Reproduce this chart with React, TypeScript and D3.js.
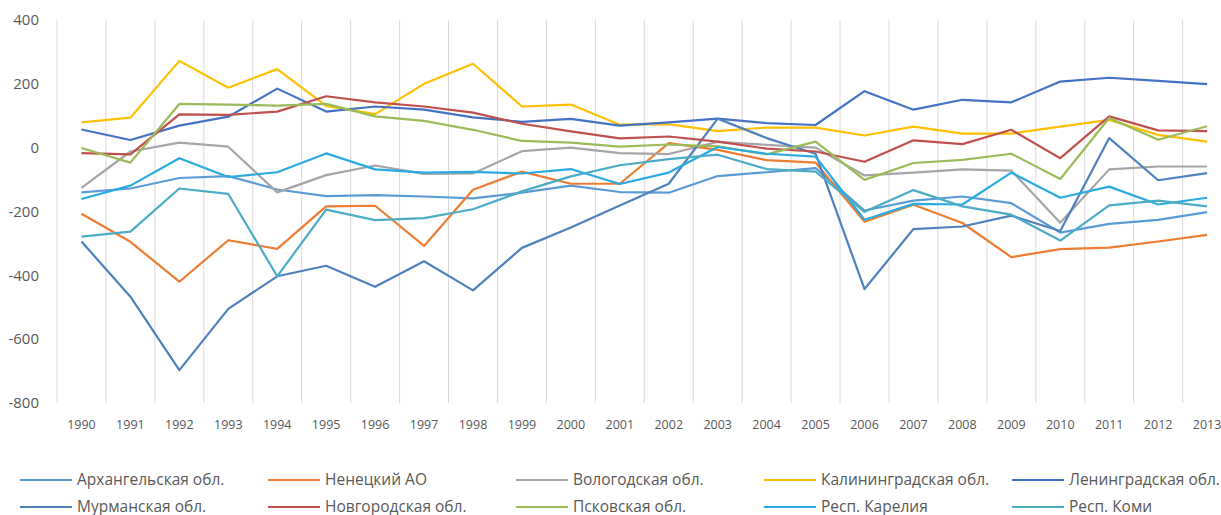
import React, { useEffect, useRef } from 'react';
import * as d3 from 'd3';

const years = d3.range(1990, 2014).map(String);

const arkhangelsk = [-140, -128, -95, -89, -131, -152, -149, -153, -159, -141, -119, -139, -141, -89, -77, -64, -197, -166, -153, -174, -266, -239, -226, -202];
const nenets = [-207, -295, -420, -290, -317, -184, -182, -308, -132, -75, -113, -113, 14, -7, -39, -47, -232, -179, -236, -343, -318, -313, -294, -273];
const vologda = [-126, -12, 16, 3, -140, -86, -56, -82, -81, -11, 0, -17, -20, 18, 9, 0, -87, -78, -68, -72, -235, -68, -59, -59];
const kaliningrad = [79, 94, 272, 188, 246, 131, 105, 200, 263, 129, 135, 72, 74, 52, 63, 63, 38, 66, 44, 44, 66, 87, 40, 19];
const leningrad = [57, 24, 69, 97, 185, 113, 129, 119, 95, 81, 90, 69, 79, 91, 77, 71, 177, 119, 150, 142, 207, 219, 209, 199];
const murmansk = [-294, -467, -697, -505, -403, -370, -436, -356, -447, -314, -250, -181, -113, 91, 30, -19, -443, -255, -247, -213, -261, 30, -102, -80];
const novgorod = [-17, -21, 104, 103, 113, 161, 142, 129, 110, 75, 51, 29, 35, 19, -3, -12, -44, 23, 11, 56, -33, 98, 54, 52];
const pskov = [-1, -47, 137, 135, 132, 137, 98, 84, 56, 21, 16, 3, 10, 4, -21, 19, -101, -48, -38, -19, -98, 93, 25, 67];
const karelia = [-161, -119, -33, -92, -77, -18, -68, -78, -76, -81, -67, -114, -78, 2, -19, -28, -226, -176, -178, -78, -157, -122, -178, -157];
const komi = [-279, -263, -128, -145, -403, -194, -227, -221, -193, -137, -90, -55, -36, -22, -67, -75, -201, -133, -184, -210, -291, -181, -166, -184];

const seriesNames = [
  'Архангельская обл.', 'Ненецкий АО', 'Вологодская обл.', 'Калининградская обл.', 'Ленинградская обл.',
  'Мурманская обл.', 'Новгородская обл.', 'Псковская обл.', 'Респ. Карелия', 'Респ. Коми',
];
const seriesValues = [arkhangelsk, nenets, vologda, kaliningrad, leningrad, murmansk, novgorod, pskov, karelia, komi];
const seriesColors = ['#5B9BD5', '#ED7D31', '#A5A5A5', '#FFC000', '#4472C4', '#4F81BD', '#C0504D', '#9BBB59', '#29ABE2', '#4BACC6'];
const yTicks = [-800, -600, -400, -200, 0, 200, 400];

const W = 1221;
const H = 515;
const FONT = '"Open Sans", "Noto Sans", sans-serif';

export default function App() {
  const svgRef = useRef<SVGSVGElement | null>(null);

  useEffect(() => {
    if (!svgRef.current) return;
    const svg = d3.select(svgRef.current);
    svg.selectAll('*').remove();

    const step = 48.94;
    const left = 57;
    const x = d3.scaleBand<string>().domain(years).range([left, left + step * years.length]);
    const y = d3.scaleLinear().domain([-800, 400]).range([403, 20]);

    // vertical gridlines between categories
    svg.append('g')
      .selectAll('line')
      .data(d3.range(years.length + 1))
      .enter()
      .append('line')
      .attr('x1', i => left + i * x.step())
      .attr('x2', i => left + i * x.step())
      .attr('y1', y(400))
      .attr('y2', y(-800))
      .attr('stroke', '#d9d9d9')
      .attr('stroke-width', 1);

    svg.append('g')
      .selectAll('text')
      .data(yTicks)
      .enter()
      .append('text')
      .attr('x', 39)
      .attr('y', d => y(d))
      .attr('dy', '0.35em')
      .attr('text-anchor', 'end')
      .attr('font-size', 15)
      .attr('font-family', FONT)
      .attr('fill', '#595959')
      .text(d => String(d));

    svg.append('g')
      .selectAll('text')
      .data(years)
      .enter()
      .append('text')
      .attr('x', d => (x(d) ?? 0) + x.bandwidth() / 2)
      .attr('y', 425)
      .attr('dy', '0.35em')
      .attr('text-anchor', 'middle')
      .attr('font-size', 12.5)
      .attr('font-family', FONT)
      .attr('fill', '#595959')
      .text(d => d);

    const line = d3.line<number>()
      .x((_, i) => (x(years[i]) ?? 0) + x.bandwidth() / 2)
      .y(d => y(d));

    seriesValues.forEach((vals, k) => {
      svg.append('path')
        .datum(vals)
        .attr('d', line)
        .attr('fill', 'none')
        .attr('stroke', seriesColors[k])
        .attr('stroke-width', 2.2)
        .attr('stroke-linejoin', 'round');
    });

    // legend, two rows of five
    const lg = svg.append('g');
    seriesNames.forEach((name, k) => {
      const cx = 20 + (k % 5) * 248;
      const cy = k < 5 ? 480 : 507;
      lg.append('line')
        .attr('x1', cx)
        .attr('x2', cx + 52)
        .attr('y1', cy)
        .attr('y2', cy)
        .attr('stroke', seriesColors[k])
        .attr('stroke-width', 2.2);
      lg.append('text')
        .attr('x', cx + 57)
        .attr('y', cy)
        .attr('dy', '0.35em')
        .attr('font-size', 15.5)
        .attr('font-family', FONT)
        .attr('fill', '#595959')
        .text(name);
    });
  }, []);

  return (
    <div style={{ position: 'absolute', left: 0, top: 0, width: W, height: H, background: '#fff', overflow: 'hidden' }}>
      <svg ref={svgRef} width={W} height={H} style={{ display: 'block' }} />
    </div>
  );
}
